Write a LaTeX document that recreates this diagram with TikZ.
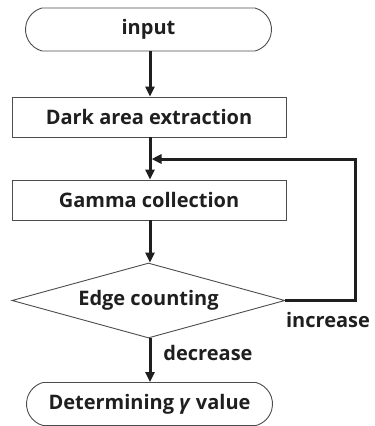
\documentclass[tikz,border=0pt]{standalone}
\usepackage{fontspec}
\setmainfont{Open Sans}[BoldFont={* Bold}]
\usetikzlibrary{shapes.geometric,shapes.misc,arrows.meta}

\begin{document}
\begin{tikzpicture}[x=1pt,y=-1pt,
  txt/.style={font=\bfseries\fontsize{20}{23}\selectfont, text=black!88},
  stepbox/.style={txt, draw=black!70, line width=0.9pt, rectangle,
    minimum width=274pt, minimum height=40pt, inner sep=0pt},
  term/.style={txt, draw=black!70, line width=0.9pt, rounded rectangle,
    rounded rectangle arc length=150,
    minimum width=246pt, minimum height=43pt, inner sep=0pt},
  decide/.style={txt, draw=black!70, line width=0.9pt, diamond,
    minimum width=273pt, minimum height=75pt, inner sep=0pt, shape aspect=3.64},
  flow/.style={line width=3pt, draw=black!88},
  arr/.style={flow, -{Triangle[length=10pt,width=9pt]}},
  lbl/.style={txt}
]
\useasboundingbox (0,0) rectangle (375,426);

\node[term]     (in)    at (148.5,29.5) {input};
\node[stepbox]  (dark)  at (149,117)    {Dark area extraction};
\node[stepbox]  (gamma) at (149,200)    {Gamma collection};
\node[decide]   (edge)  at (148.5,300.5){Edge counting};
\node[term]     (det)   at (149.5,404)  {Determining \textit{γ} value};

% the feedback line ends on the right edge of the main flow line
\coordinate (join) at (151.5,159);
\coordinate (turn) at (355,300.5);

\draw[arr] (in.south -| 150,0) -- (dark.north -| 150,0);
\draw[arr] (dark.south -| 150,0) -- (gamma.north -| 150,0);
\draw[arr] (gamma.south -| 150,0) -- (edge.north -| 150,0);
\draw[arr] (edge.south -| 150,0) -- (det.north -| 150,0);
\draw[arr] (edge.east) -- (turn) |- (join);

\node[lbl] (inc) at (328,320) {increase};
\node[lbl] (dec) at (208,353) {decrease};
\end{tikzpicture}
\end{document}
